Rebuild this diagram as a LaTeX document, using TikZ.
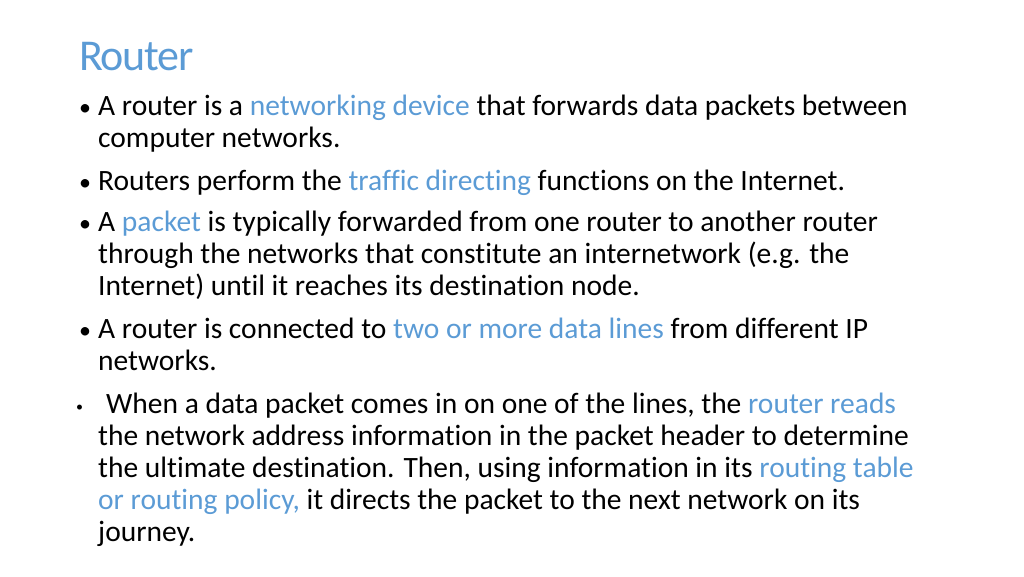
\documentclass[tikz,border=0pt]{standalone}
\usepackage{fontspec}
\setmainfont[Ligatures={NoCommon}]{Carlito}
\definecolor{hl}{RGB}{91,155,213}
\begin{document}
\begin{tikzpicture}[x=1pt,y=-1pt,
  ln/.style={anchor=base west,inner sep=0pt,font=\fontsize{29.5}{32}\selectfont},
  bul/.style={anchor=base west,inner sep=0pt,font=\fontsize{24}{32}\selectfont}]
\useasboundingbox (0,0) rectangle (1024,576);
\node[anchor=base west,inner sep=0pt,text=hl,font=\fontsize{44}{48}\selectfont\addfontfeatures{LetterSpace=-3}] (t) at (79,70) {Router};
\node[bul] (b1) at (79,115) {•};
\node[ln] (l1) at (98,115) {A router is a \textcolor{hl}{networking device} that forwards data packets between};
\node[ln] (l2) at (98,147) {computer networks.};
\node[bul] (b2) at (79,190) {•};
\node[ln] (l3) at (98,190) {Routers perform the \textcolor{hl}{traffic directing} functions on the Internet.};
\node[bul] (b3) at (79,231) {•};
\node[ln] (l4) at (98,231) {A \textcolor{hl}{packet} is typically forwarded from one router to another router};
\node[ln] (l5) at (98,263) {through the networks that constitute an internetwork (e.g. the};
\node[ln] (l6) at (98,295) {Internet) until it reaches its destination node.};
\node[bul] (b4) at (79,338) {•};
\node[ln] (l7) at (98,338) {A router is connected to \textcolor{hl}{two or more data lines} from different IP};
\node[ln] (l8) at (98,370) {networks.};
\node[anchor=base west,inner sep=0pt,font=\fontsize{14}{16}\selectfont] (b5) at (76,411) {•};
\node[ln] (l9) at (106,413) {When a data packet comes in on one of the lines, the \textcolor{hl}{router reads}};
\node[ln] (l10) at (98,445) {the network address information in the packet header to determine};
\node[ln] (l11) at (98,477) {the ultimate destination. Then, using information in its \textcolor{hl}{routing table}};
\node[ln] (l12) at (98,509) {\textcolor{hl}{or routing policy,} it directs the packet to the next network on its};
\node[ln] (l13) at (98,541) {journey.};
\end{tikzpicture}
\end{document}
